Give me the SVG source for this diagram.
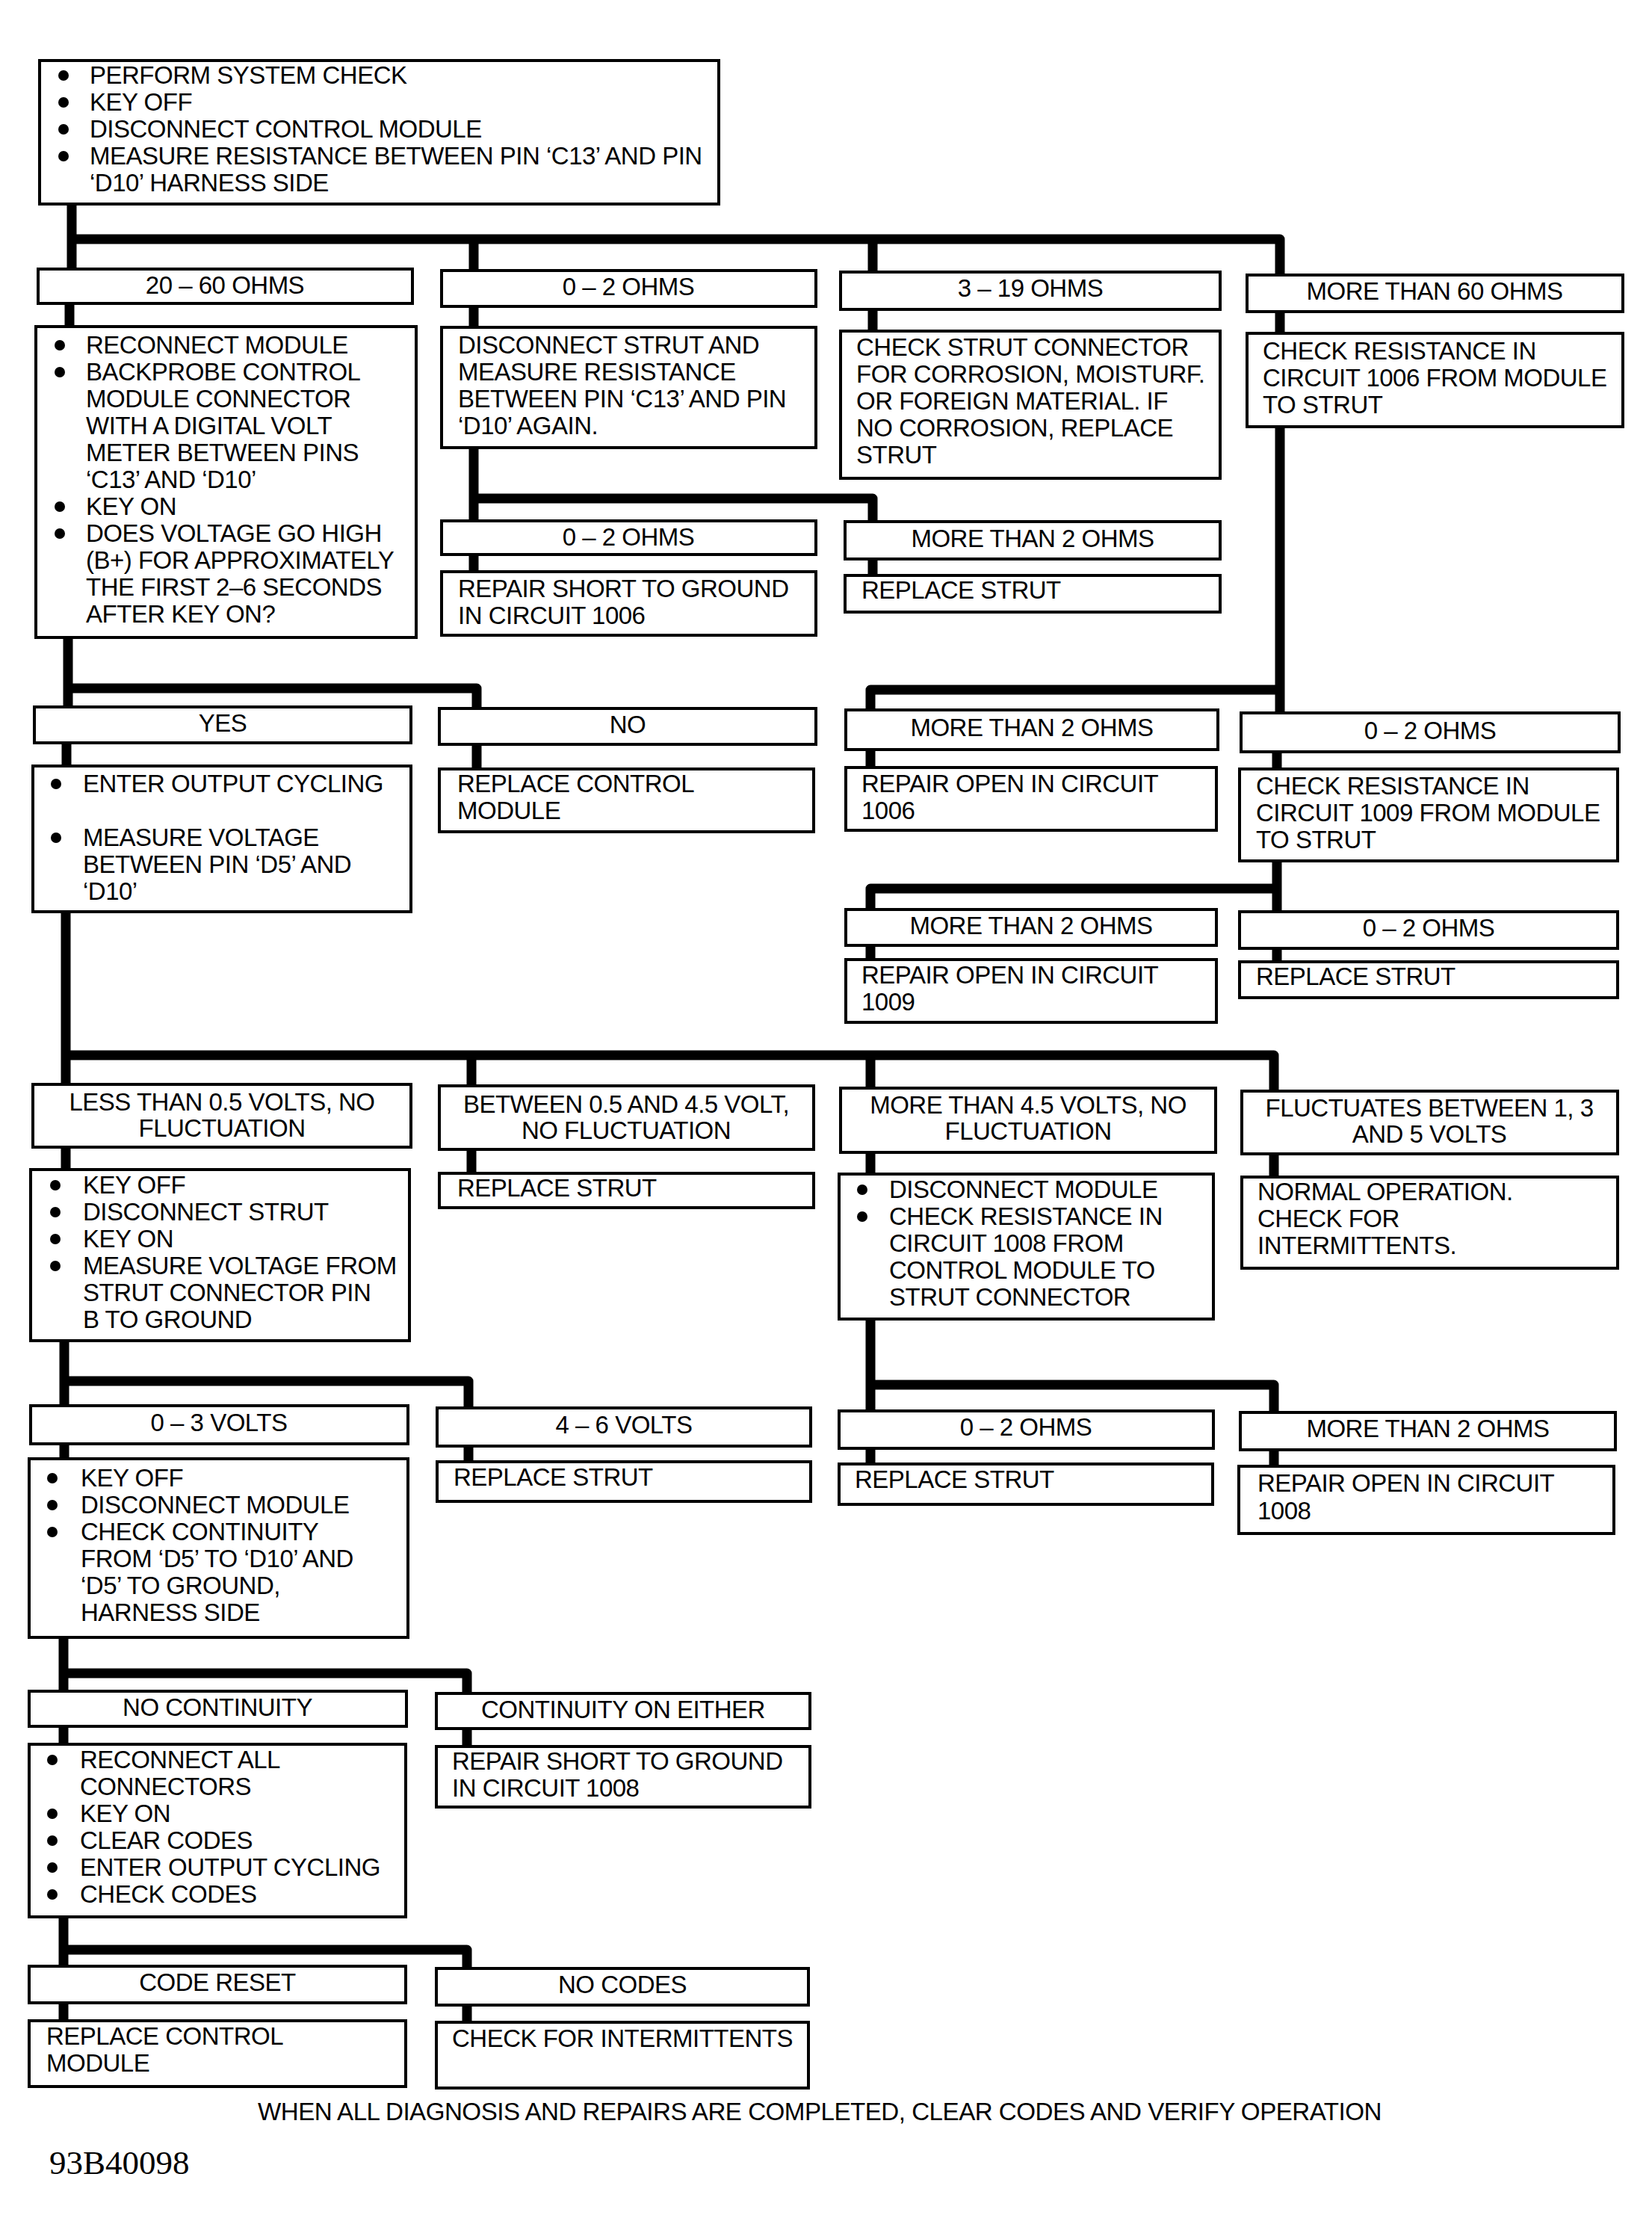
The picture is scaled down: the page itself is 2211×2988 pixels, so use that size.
<svg xmlns="http://www.w3.org/2000/svg" width="2211" height="2988" viewBox="0 0 2211 2988">
<style>
.bg{fill:#fff}
.box{fill:#fff;stroke:#000;stroke-width:4}
.t{font-family:"Liberation Sans",Arial,Helvetica,sans-serif;font-size:33px;letter-spacing:-0.5px;fill:#000}
.c{text-anchor:middle}
.conn{fill:none;stroke:#000;stroke-width:13;stroke-linejoin:round}
.dot{fill:#000}
.id{font-family:"Liberation Serif","Times New Roman",serif;font-size:45px;fill:#000}
</style>
<rect class="bg" x="0" y="0" width="2211" height="2988"/>
<g id="connectors">
<path class="conn" d="M96,273 V360 M96,320 H1713 V368 M634,320 V362 M1168,320 V364"/>
<path class="conn" d="M93,406 V437 M634,410 V438 M1168,414 V443 M1713,417 V446"/>
<path class="conn" d="M634,599 V697 M634,667 H1168 V698 M634,742 V765 M1168,748 V770"/>
<path class="conn" d="M1713,571 V954 M1713,923 H1165 V950"/>
<path class="conn" d="M91,853 V946 M91,921 H638 V948"/>
<path class="conn" d="M89,994 V1025 M638,996 V1029 M1165,1003 V1027 M1709,1006 V1029"/>
<path class="conn" d="M1709,1152 V1220 M1709,1189 H1165 V1217 M1165,1265 V1284 M1709,1269 V1287"/>
<path class="conn" d="M88,1220 V1451 M88,1412 H1705 V1460 M631,1412 V1453 M1165,1412 V1456"/>
<path class="conn" d="M88,1535 V1565 M631,1538 V1570 M1165,1542 V1571 M1705,1544 V1575"/>
<path class="conn" d="M86,1794 V1881 M86,1848 H627 V1884 M86,1932 V1952 M627,1935 V1956"/>
<path class="conn" d="M1165,1765 V1888 M1165,1853 H1705 V1890 M1165,1938 V1959 M1705,1940 V1962"/>
<path class="conn" d="M85,2191 V2263 M85,2239 H625 V2266 M85,2310 V2334 M625,2313 V2337"/>
<path class="conn" d="M85,2565 V2631 M85,2609 H625 V2634 M85,2680 V2704 M625,2683 V2706"/>
</g>

<g id="start">
<rect class="box" x="53" y="81" width="909" height="192"/>
<circle class="dot" cx="85" cy="101" r="7"/><circle class="dot" cx="85" cy="137" r="7"/><circle class="dot" cx="85" cy="173" r="7"/><circle class="dot" cx="85" cy="209" r="7"/>
<text class="t"><tspan x="120" y="112">PERFORM SYSTEM CHECK</tspan><tspan x="120" y="148">KEY OFF</tspan><tspan x="120" y="184">DISCONNECT CONTROL MODULE</tspan><tspan x="120" y="220">MEASURE RESISTANCE BETWEEN PIN ‘C13’ AND PIN</tspan><tspan x="120" y="256">‘D10’ HARNESS SIDE</tspan></text>
</g>

<g id="r20_60">
<rect class="box" x="51" y="360" width="501" height="46"/>
<text class="t c" x="301" y="393">20 – 60 OHMS</text>
</g>
<g id="r0_2a">
<rect class="box" x="591" y="362" width="501" height="48"/>
<text class="t c" x="841" y="395">0 – 2 OHMS</text>
</g>
<g id="r3_19">
<rect class="box" x="1125" y="364" width="508" height="50"/>
<text class="t c" x="1379" y="397">3 – 19 OHMS</text>
</g>
<g id="r60plus">
<rect class="box" x="1669" y="368" width="503" height="49"/>
<text class="t c" x="1920" y="401">MORE THAN 60 OHMS</text>
</g>

<g id="reconnect">
<rect class="box" x="48" y="437" width="509" height="416"/>
<circle class="dot" cx="80" cy="462" r="7"/><circle class="dot" cx="80" cy="498" r="7"/><circle class="dot" cx="80" cy="678" r="7"/><circle class="dot" cx="80" cy="714" r="7"/>
<text class="t"><tspan x="115" y="473">RECONNECT MODULE</tspan><tspan x="115" y="509">BACKPROBE CONTROL</tspan><tspan x="115" y="545">MODULE CONNECTOR</tspan><tspan x="115" y="581">WITH A DIGITAL VOLT</tspan><tspan x="115" y="617">METER BETWEEN PINS</tspan><tspan x="115" y="653">‘C13’ AND ‘D10’</tspan><tspan x="115" y="689">KEY ON</tspan><tspan x="115" y="725">DOES VOLTAGE GO HIGH</tspan><tspan x="115" y="761">(B+) FOR APPROXIMATELY</tspan><tspan x="115" y="797">THE FIRST 2–6 SECONDS</tspan><tspan x="115" y="833">AFTER KEY ON?</tspan></text>
</g>
<g id="disc_strut">
<rect class="box" x="591" y="438" width="501" height="161"/>
<text class="t"><tspan x="613" y="473">DISCONNECT STRUT AND</tspan><tspan x="613" y="509">MEASURE RESISTANCE</tspan><tspan x="613" y="545">BETWEEN PIN ‘C13’ AND PIN</tspan><tspan x="613" y="581">‘D10’ AGAIN.</tspan></text>
</g>
<g id="check_conn">
<rect class="box" x="1125" y="443" width="508" height="197"/>
<text class="t"><tspan x="1146" y="476">CHECK STRUT CONNECTOR</tspan><tspan x="1146" y="512">FOR CORROSION, MOISTURF.</tspan><tspan x="1146" y="548">OR FOREIGN MATERIAL.  IF</tspan><tspan x="1146" y="584">NO CORROSION, REPLACE</tspan><tspan x="1146" y="620">STRUT</tspan></text>
</g>
<g id="check1006">
<rect class="box" x="1669" y="446" width="503" height="125"/>
<text class="t"><tspan x="1690" y="481">CHECK RESISTANCE IN</tspan><tspan x="1690" y="517">CIRCUIT 1006 FROM MODULE</tspan><tspan x="1690" y="553">TO STRUT</tspan></text>
</g>

<g id="r0_2b">
<rect class="box" x="591" y="697" width="501" height="45"/>
<text class="t c" x="841" y="730">0 – 2 OHMS</text>
</g>
<g id="rgt2a">
<rect class="box" x="1131" y="698" width="502" height="50"/>
<text class="t c" x="1382" y="732">MORE THAN 2 OHMS</text>
</g>
<g id="short1006">
<rect class="box" x="591" y="765" width="501" height="85"/>
<text class="t"><tspan x="613" y="799">REPAIR SHORT TO GROUND</tspan><tspan x="613" y="835">IN CIRCUIT 1006</tspan></text>
</g>
<g id="repl_strut1">
<rect class="box" x="1131" y="770" width="502" height="49"/>
<text class="t" x="1153" y="801">REPLACE STRUT</text>
</g>

<g id="yes">
<rect class="box" x="46" y="946" width="504" height="48"/>
<text class="t c" x="298" y="979">YES</text>
</g>
<g id="no">
<rect class="box" x="588" y="948" width="504" height="48"/>
<text class="t c" x="840" y="981">NO</text>
</g>
<g id="rgt2b">
<rect class="box" x="1132" y="950" width="498" height="53"/>
<text class="t c" x="1381" y="985">MORE THAN 2 OHMS</text>
</g>
<g id="r0_2c">
<rect class="box" x="1661" y="954" width="506" height="52"/>
<text class="t c" x="1914" y="989">0 – 2 OHMS</text>
</g>

<g id="enter_oc">
<rect class="box" x="44" y="1025" width="506" height="195"/>
<circle class="dot" cx="75" cy="1049" r="7"/><circle class="dot" cx="75" cy="1121" r="7"/>
<text class="t"><tspan x="111" y="1060">ENTER OUTPUT CYCLING</tspan><tspan x="111" y="1132">MEASURE VOLTAGE</tspan><tspan x="111" y="1168">BETWEEN PIN ‘D5’ AND</tspan><tspan x="111" y="1204">‘D10’</tspan></text>
</g>
<g id="repl_cm1">
<rect class="box" x="588" y="1029" width="501" height="84"/>
<text class="t"><tspan x="612" y="1060">REPLACE CONTROL</tspan><tspan x="612" y="1096">MODULE</tspan></text>
</g>
<g id="open1006">
<rect class="box" x="1132" y="1027" width="496" height="84"/>
<text class="t"><tspan x="1153" y="1060">REPAIR OPEN IN CIRCUIT</tspan><tspan x="1153" y="1096">1006</tspan></text>
</g>
<g id="check1009">
<rect class="box" x="1659" y="1029" width="506" height="123"/>
<text class="t"><tspan x="1681" y="1063">CHECK RESISTANCE IN</tspan><tspan x="1681" y="1099">CIRCUIT 1009 FROM MODULE</tspan><tspan x="1681" y="1135">TO STRUT</tspan></text>
</g>
<g id="rgt2c">
<rect class="box" x="1132" y="1217" width="496" height="48"/>
<text class="t c" x="1380" y="1250">MORE THAN 2 OHMS</text>
</g>
<g id="r0_2d">
<rect class="box" x="1659" y="1220" width="506" height="49"/>
<text class="t c" x="1912" y="1253">0 – 2 OHMS</text>
</g>
<g id="open1009">
<rect class="box" x="1132" y="1284" width="496" height="84"/>
<text class="t"><tspan x="1153" y="1316">REPAIR OPEN IN CIRCUIT</tspan><tspan x="1153" y="1352">1009</tspan></text>
</g>
<g id="repl_strut2">
<rect class="box" x="1659" y="1287" width="506" height="48"/>
<text class="t" x="1681" y="1318">REPLACE STRUT</text>
</g>

<g id="lt05">
<rect class="box" x="44" y="1451" width="506" height="84"/>
<text class="t c"><tspan x="297" y="1486">LESS THAN 0.5 VOLTS, NO</tspan><tspan x="297" y="1521">FLUCTUATION</tspan></text>
</g>
<g id="btw">
<rect class="box" x="588" y="1453" width="501" height="85"/>
<text class="t c"><tspan x="838" y="1489">BETWEEN 0.5 AND 4.5 VOLT,</tspan><tspan x="838" y="1524">NO FLUCTUATION</tspan></text>
</g>
<g id="gt45">
<rect class="box" x="1125" y="1456" width="502" height="86"/>
<text class="t c"><tspan x="1376" y="1490">MORE THAN 4.5 VOLTS, NO</tspan><tspan x="1376" y="1525">FLUCTUATION</tspan></text>
</g>
<g id="fluct">
<rect class="box" x="1662" y="1460" width="503" height="84"/>
<text class="t c"><tspan x="1913" y="1494">FLUCTUATES BETWEEN 1, 3</tspan><tspan x="1913" y="1529">AND 5 VOLTS</tspan></text>
</g>

<g id="keyoff1">
<rect class="box" x="41" y="1565" width="507" height="229"/>
<circle class="dot" cx="74" cy="1586" r="7"/><circle class="dot" cx="74" cy="1622" r="7"/><circle class="dot" cx="74" cy="1658" r="7"/><circle class="dot" cx="74" cy="1694" r="7"/>
<text class="t"><tspan x="111" y="1597">KEY OFF</tspan><tspan x="111" y="1633">DISCONNECT STRUT</tspan><tspan x="111" y="1669">KEY ON</tspan><tspan x="111" y="1705">MEASURE VOLTAGE FROM</tspan><tspan x="111" y="1741">STRUT CONNECTOR PIN</tspan><tspan x="111" y="1777">B TO GROUND</tspan></text>
</g>
<g id="repl_strut3">
<rect class="box" x="588" y="1570" width="501" height="46"/>
<text class="t" x="612" y="1601">REPLACE STRUT</text>
</g>
<g id="disc_mod1">
<rect class="box" x="1123" y="1571" width="501" height="194"/>
<circle class="dot" cx="1154" cy="1592" r="7"/><circle class="dot" cx="1154" cy="1628" r="7"/>
<text class="t"><tspan x="1190" y="1603">DISCONNECT MODULE</tspan><tspan x="1190" y="1639">CHECK RESISTANCE IN</tspan><tspan x="1190" y="1675">CIRCUIT 1008 FROM</tspan><tspan x="1190" y="1711">CONTROL MODULE TO</tspan><tspan x="1190" y="1747">STRUT CONNECTOR</tspan></text>
</g>
<g id="normal">
<rect class="box" x="1662" y="1575" width="503" height="122"/>
<text class="t"><tspan x="1683" y="1606">NORMAL OPERATION.</tspan><tspan x="1683" y="1642">CHECK FOR</tspan><tspan x="1683" y="1678">INTERMITTENTS.</tspan></text>
</g>

<g id="v0_3">
<rect class="box" x="41" y="1881" width="505" height="51"/>
<text class="t c" x="293" y="1915">0 – 3 VOLTS</text>
</g>
<g id="v4_6">
<rect class="box" x="585" y="1884" width="500" height="51"/>
<text class="t c" x="835" y="1918">4 – 6 VOLTS</text>
</g>
<g id="r0_2e">
<rect class="box" x="1123" y="1888" width="501" height="50"/>
<text class="t c" x="1373" y="1921">0 – 2 OHMS</text>
</g>
<g id="rgt2d">
<rect class="box" x="1660" y="1890" width="502" height="50"/>
<text class="t c" x="1911" y="1923">MORE THAN 2 OHMS</text>
</g>

<g id="keyoff2">
<rect class="box" x="39" y="1952" width="507" height="239"/>
<circle class="dot" cx="70" cy="1978" r="7"/><circle class="dot" cx="70" cy="2014" r="7"/><circle class="dot" cx="70" cy="2050" r="7"/>
<text class="t"><tspan x="108" y="1989">KEY OFF</tspan><tspan x="108" y="2025">DISCONNECT MODULE</tspan><tspan x="108" y="2061">CHECK CONTINUITY</tspan><tspan x="108" y="2097">FROM ‘D5’ TO ‘D10’ AND</tspan><tspan x="108" y="2133">‘D5’ TO GROUND,</tspan><tspan x="108" y="2169">HARNESS SIDE</tspan></text>
</g>
<g id="repl_strut4">
<rect class="box" x="585" y="1956" width="500" height="53"/>
<text class="t" x="607" y="1988">REPLACE STRUT</text>
</g>
<g id="repl_strut5">
<rect class="box" x="1123" y="1959" width="500" height="54"/>
<text class="t" x="1144" y="1991">REPLACE STRUT</text>
</g>
<g id="open1008">
<rect class="box" x="1658" y="1962" width="502" height="90"/>
<text class="t"><tspan x="1683" y="1996">REPAIR OPEN IN CIRCUIT</tspan><tspan x="1683" y="2033">1008</tspan></text>
</g>

<g id="nocont">
<rect class="box" x="39" y="2263" width="505" height="47"/>
<text class="t c" x="291" y="2296">NO CONTINUITY</text>
</g>
<g id="conteither">
<rect class="box" x="584" y="2266" width="500" height="47"/>
<text class="t c" x="834" y="2299">CONTINUITY ON EITHER</text>
</g>
<g id="reconnect_all">
<rect class="box" x="39" y="2334" width="504" height="231"/>
<circle class="dot" cx="70" cy="2355" r="7"/><circle class="dot" cx="70" cy="2427" r="7"/><circle class="dot" cx="70" cy="2463" r="7"/><circle class="dot" cx="70" cy="2499" r="7"/><circle class="dot" cx="70" cy="2535" r="7"/>
<text class="t"><tspan x="107" y="2366">RECONNECT ALL</tspan><tspan x="107" y="2402">CONNECTORS</tspan><tspan x="107" y="2438">KEY ON</tspan><tspan x="107" y="2474">CLEAR CODES</tspan><tspan x="107" y="2510">ENTER OUTPUT CYCLING</tspan><tspan x="107" y="2546">CHECK CODES</tspan></text>
</g>
<g id="short1008">
<rect class="box" x="584" y="2337" width="500" height="81"/>
<text class="t"><tspan x="605" y="2368">REPAIR SHORT TO GROUND</tspan><tspan x="605" y="2404">IN CIRCUIT 1008</tspan></text>
</g>

<g id="codereset">
<rect class="box" x="39" y="2631" width="504" height="49"/>
<text class="t c" x="291" y="2664">CODE RESET</text>
</g>
<g id="nocodes">
<rect class="box" x="584" y="2634" width="498" height="49"/>
<text class="t c" x="833" y="2667">NO CODES</text>
</g>
<g id="repl_cm2">
<rect class="box" x="39" y="2704" width="504" height="88"/>
<text class="t"><tspan x="62" y="2736">REPLACE CONTROL</tspan><tspan x="62" y="2772">MODULE</tspan></text>
</g>
<g id="intermit">
<rect class="box" x="584" y="2706" width="498" height="88"/>
<text class="t" x="605" y="2739">CHECK FOR INTERMITTENTS</text>
</g>

<g id="footer">
<text class="t" x="345" y="2837" textLength="1504" lengthAdjust="spacingAndGlyphs">WHEN ALL DIAGNOSIS AND REPAIRS ARE COMPLETED, CLEAR CODES AND VERIFY OPERATION</text>
<text class="id" x="66" y="2909">93B40098</text>
</g>
</svg>
